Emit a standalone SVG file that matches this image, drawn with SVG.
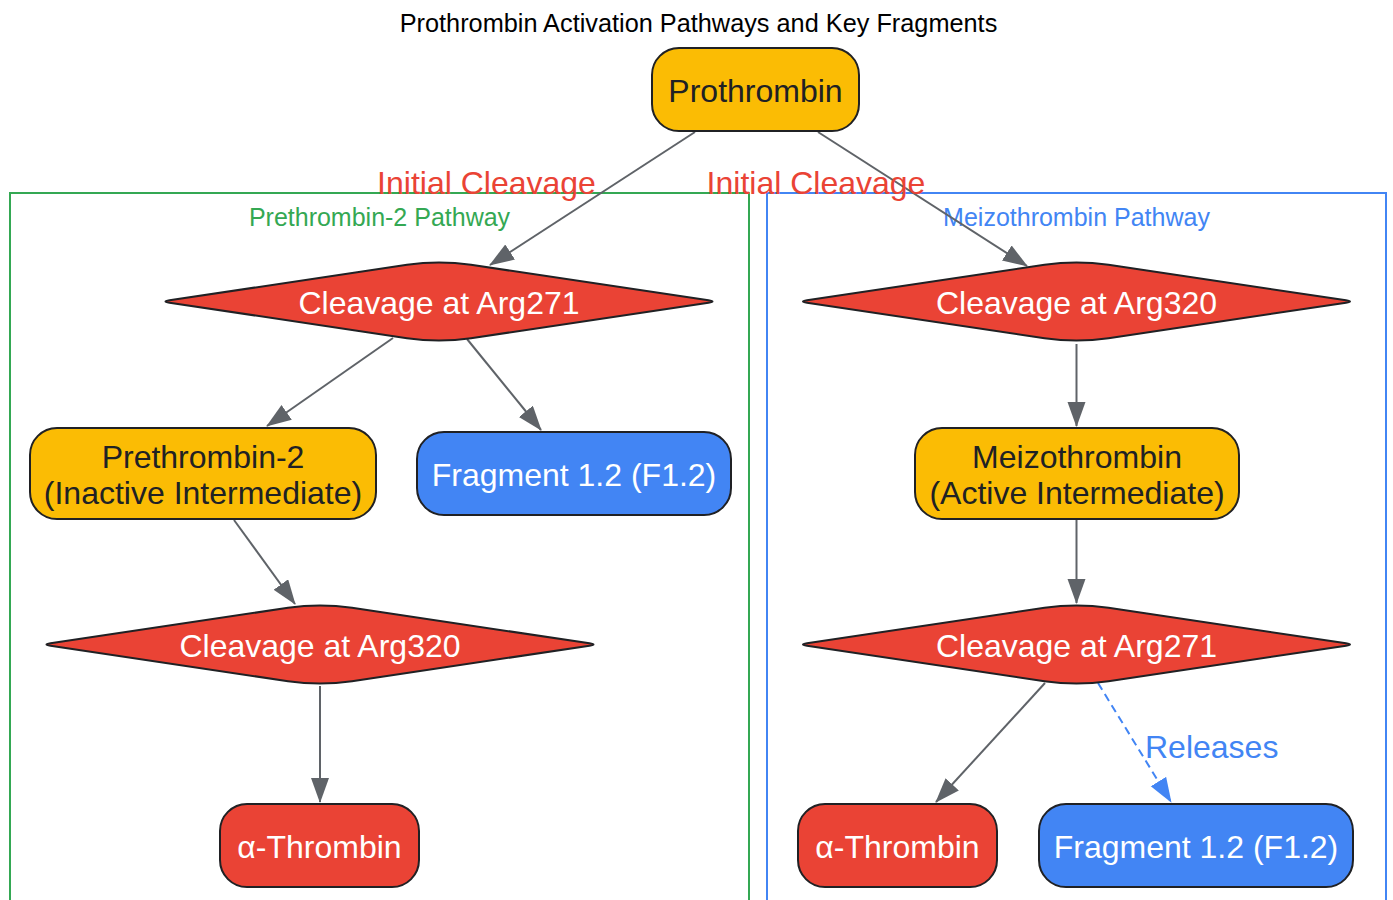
<svg xmlns="http://www.w3.org/2000/svg" width="1393" height="900" viewBox="0 0 1393 900">
<style>
  text { font-family: "Liberation Sans", Arial, sans-serif; }
  .title { font-size: 25.3px; fill: #000000; text-anchor: middle; }
  .cl { font-size: 25px; text-anchor: middle; }
  .node { stroke: #202124; stroke-width: 2; }
  .yellow { fill: #FBBC04; }
  .red { fill: #EA4335; }
  .blue { fill: #4285F4; }
  .t { font-size: 32px; text-anchor: middle; }
  .dark { fill: #202124; }
  .light { fill: #FFFFFF; }
  .edge { fill: none; stroke: #5F6368; stroke-width: 2; }
  .dashed { fill: none; stroke: #4285F4; stroke-width: 2; stroke-dasharray: 8 5; }
  .elabel { font-size: 32px; }
</style>
<defs>
  <marker id="ah" markerUnits="userSpaceOnUse" markerWidth="26" markerHeight="20" refX="24" refY="9" orient="auto">
    <path d="M0,0 L25,9 L0,18 Z" fill="#5F6368"/>
  </marker>
  <marker id="ahb" markerUnits="userSpaceOnUse" markerWidth="26" markerHeight="20" refX="24" refY="9" orient="auto">
    <path d="M0,0 L25,9 L0,18 Z" fill="#4285F4"/>
  </marker>
  <path id="dia" d="M -32,-36.7 Q 0,-41.5 32,-36.7 L 269.5,-1.2 Q 277.5,0 269.5,1.2 L 32,36.7 Q 0,41.5 -32,36.7 L -269.5,1.2 Q -277.5,0 -269.5,-1.2 Z"/>
</defs>
<rect width="1393" height="900" fill="#FFFFFF"/>
<text class="title" x="698.5" y="32">Prothrombin Activation Pathways and Key Fragments</text>

<g id="clusters">
  <g id="cluster_prethrombin2">
    <rect x="10" y="193" width="739" height="720" fill="none" stroke="#34A853" stroke-width="2"/>
    <text class="cl" x="379.5" y="226" fill="#34A853">Prethrombin-2 Pathway</text>
  </g>
  <g id="cluster_meizothrombin">
    <rect x="767" y="193" width="619" height="720" fill="none" stroke="#4285F4" stroke-width="2"/>
    <text class="cl" x="1076.5" y="226" fill="#4285F4">Meizothrombin Pathway</text>
  </g>
</g>

<g id="connectors">
  <line class="edge" x1="695" y1="132" x2="490" y2="265" marker-end="url(#ah)"/>
  <line class="edge" x1="818" y1="132" x2="1027" y2="266" marker-end="url(#ah)"/>
  <line class="edge" x1="393" y1="338" x2="267" y2="426" marker-end="url(#ah)"/>
  <line class="edge" x1="467" y1="339" x2="541" y2="430" marker-end="url(#ah)"/>
  <line class="edge" x1="234" y1="520" x2="295" y2="604" marker-end="url(#ah)"/>
  <line class="edge" x1="320" y1="686" x2="320" y2="802" marker-end="url(#ah)"/>
  <line class="edge" x1="1076.5" y1="344" x2="1076.5" y2="426" marker-end="url(#ah)"/>
  <line class="edge" x1="1076.5" y1="520" x2="1076.5" y2="603" marker-end="url(#ah)"/>
  <line class="edge" x1="1045" y1="683" x2="936" y2="802" marker-end="url(#ah)"/>
  <line class="dashed" x1="1098" y1="683" x2="1171" y2="802" marker-end="url(#ahb)"/>
  <text class="elabel" x="486.5" y="194" text-anchor="middle" fill="#EA4335">Initial Cleavage</text>
  <text class="elabel" x="816" y="194" text-anchor="middle" fill="#EA4335">Initial Cleavage</text>
  <text class="elabel" x="1145" y="758" fill="#4285F4">Releases</text>
</g>

<g id="prothrombin">
  <rect class="node yellow" x="652" y="48" width="207" height="83" rx="27"/>
  <text class="t dark" x="755.5" y="102">Prothrombin</text>
</g>

<g id="cleave271_a">
  <use href="#dia" class="node red" transform="translate(439,301.5)"/>
  <text class="t light" x="439" y="314">Cleavage at Arg271</text>
</g>

<g id="cleave320_b">
  <use href="#dia" class="node red" transform="translate(1076.5,301.5)"/>
  <text class="t light" x="1076.5" y="314">Cleavage at Arg320</text>
</g>

<g id="prethrombin2">
  <rect class="node yellow" x="30" y="428" width="346" height="91" rx="27"/>
  <text class="t dark" x="203" y="468">Prethrombin-2</text>
  <text class="t dark" x="203" y="504">(Inactive Intermediate)</text>
</g>

<g id="fragment_a">
  <rect class="node blue" x="417" y="432" width="314" height="83" rx="27"/>
  <text class="t light" x="574" y="486">Fragment 1.2 (F1.2)</text>
</g>

<g id="meizothrombin">
  <rect class="node yellow" x="915" y="428" width="324" height="91" rx="27"/>
  <text class="t dark" x="1077" y="468">Meizothrombin</text>
  <text class="t dark" x="1077" y="504">(Active Intermediate)</text>
</g>

<g id="cleave320_a">
  <use href="#dia" class="node red" transform="translate(320,644.5)"/>
  <text class="t light" x="320" y="657">Cleavage at Arg320</text>
</g>

<g id="cleave271_b">
  <use href="#dia" class="node red" transform="translate(1076.5,644.5)"/>
  <text class="t light" x="1076.5" y="657">Cleavage at Arg271</text>
</g>

<g id="thrombin_a">
  <rect class="node red" x="220" y="804" width="199" height="83" rx="27"/>
  <text class="t light" x="319.5" y="858">α-Thrombin</text>
</g>

<g id="thrombin_b">
  <rect class="node red" x="798" y="804" width="199" height="83" rx="27"/>
  <text class="t light" x="897.5" y="858">α-Thrombin</text>
</g>

<g id="fragment_b">
  <rect class="node blue" x="1039" y="804" width="314" height="83" rx="27"/>
  <text class="t light" x="1196" y="858">Fragment 1.2 (F1.2)</text>
</g>
</svg>
